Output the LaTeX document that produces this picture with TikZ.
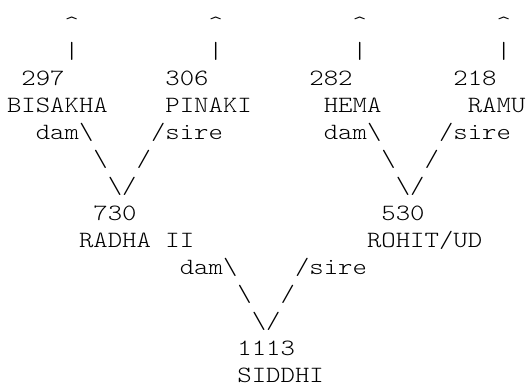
\documentclass[tikz,border=0pt]{standalone}
\usepackage{fontspec}
\newcommand\asctok[4]{\node[tok] (#1) at ({7+14.4*#2},{-31-27*#3}) {\scalebox{1}[0.85]{#4}};}
\begin{document}
\begin{tikzpicture}[x=1pt,y=1pt,
  tok/.style={anchor=base west, inner sep=0pt, outer sep=0pt, text=black,
              font=\fontsize{27.43}{30}\ttfamily\fontseries{l}\selectfont}]
\useasboundingbox (0,0) rectangle (529,-383);
% row 0 and 1: arrows up
\asctok{upa}{4}{0}{\textasciicircum}
\asctok{upb}{14}{0}{\textasciicircum}
\asctok{upc}{24}{0}{\textasciicircum}
\asctok{upd}{34}{0}{\textasciicircum}
\asctok{bara}{4}{1}{|}
\asctok{barb}{14}{1}{|}
\asctok{barc}{24}{1}{|}
\asctok{bard}{34}{1}{|}
% row 2: numbers
\asctok{nA}{1}{2}{297}
\asctok{nB}{11}{2}{306}
\asctok{nC}{21}{2}{282}
\asctok{nD}{31}{2}{218}
% row 3: names
\asctok{bisakha}{0}{3}{BISAKHA}
\asctok{pinaki}{11}{3}{PINAKI}
\asctok{hema}{22}{3}{HEMA}
\asctok{ramu}{32}{3}{RAMU}
% row 4
\asctok{damA}{2}{4}{dam\textbackslash}
\asctok{sireA}{10}{4}{/sire}
\asctok{damB}{22}{4}{dam\textbackslash}
\asctok{sireB}{30}{4}{/sire}
% row 5
\asctok{lA1}{6}{5}{\textbackslash}
\asctok{rA1}{9}{5}{/}
\asctok{lB1}{26}{5}{\textbackslash}
\asctok{rB1}{29}{5}{/}
% row 6
\asctok{lA2}{7}{6}{\textbackslash}
\asctok{rA2}{8}{6}{/}
\asctok{lB2}{27}{6}{\textbackslash}
\asctok{rB2}{28}{6}{/}
% row 7, 8
\asctok{nE}{6}{7}{730}
\asctok{nF}{26}{7}{530}
\asctok{radha}{5}{8}{RADHA II}
\asctok{rohit}{25}{8}{ROHIT/UD}
% row 9-11
\asctok{damC}{12}{9}{dam\textbackslash}
\asctok{sireC}{20}{9}{/sire}
\asctok{lC1}{16}{10}{\textbackslash}
\asctok{rC1}{19}{10}{/}
\asctok{lC2}{17}{11}{\textbackslash}
\asctok{rC2}{18}{11}{/}
% row 12, 13
\asctok{nG}{16}{12}{1113}
\asctok{siddhi}{16}{13}{SIDDHI}
\end{tikzpicture}
\end{document}
